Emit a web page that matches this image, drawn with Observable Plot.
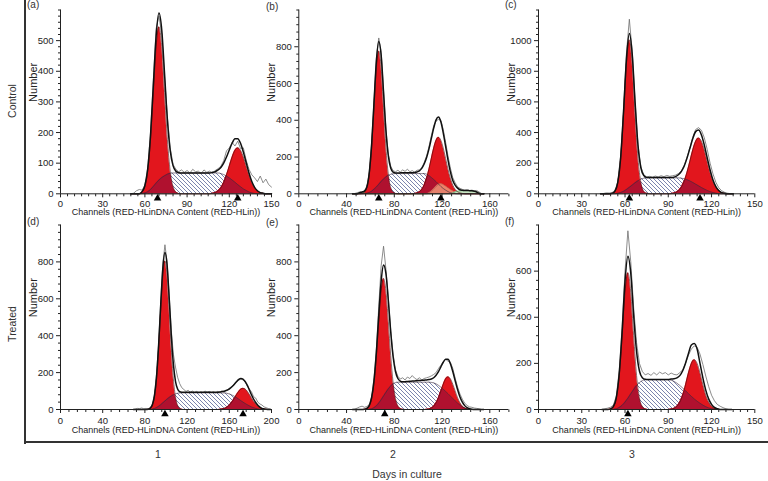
<!DOCTYPE html>
<html>
<head>
<meta charset="utf-8">
<script src="https://cdn.jsdelivr.net/npm/d3@7"></script>
<script src="https://cdn.jsdelivr.net/npm/@observablehq/plot@0.6"></script>
<style>
  html, body { margin: 0; padding: 0; background: #fff; }
  body { font-family: "Liberation Sans", Arial, sans-serif; }
  #wrap { position: relative; width: 768px; height: 481px; overflow: hidden; background: #fff; }
  .panel { position: absolute; }
  .lbl { position: absolute; font-size: 10.5px; color: #333; white-space: nowrap; line-height: 1; }
  .rot { transform: translate(-50%, -50%) rotate(-90deg); }
  .ctr { transform: translate(-50%, -50%); }
  .frameV { position: absolute; left: 24px; top: 0; width: 2px; height: 444px; background: #333; }
  .frameH { position: absolute; left: 24px; top: 441px; width: 744px; height: 2px; background: #333; }
</style>
</head>
<body>
<div id="wrap">
  <svg width="0" height="0" style="position:absolute;left:0;top:0">
    <defs>
      <pattern id="hatch" patternUnits="userSpaceOnUse" width="4" height="4">
        <rect width="4" height="4" fill="#ffffff"></rect>
        <path d="M-1,-1 L5,5 M3,-1 L5,1 M-1,3 L1,5" stroke="#5a6699" stroke-width="0.8"></path>
      </pattern>
    </defs>
  </svg>
  <div class="frameV"></div>
  <div class="frameH"></div>
</div>
<script>
// ---------------- DATA ----------------
const rowLabels = ["Control", "Treated"];
const dayLabels = ["1", "2", "3"];
const panelLetters = ["(a)", "(b)", "(c)", "(d)", "(e)", "(f)"];
const xAxisLabel = "Channels (RED-HLinDNA Content (RED-HLin))";
const yAxisLabel = "Number";
const bottomLabel = "Days in culture";

// Panel (a) Control, day 1
const aCh  = [50,52,54,56,58,60,62,64,66,68,70,72,74,76,78,80,82,84,86,88,90,92,94,96,98,100,102,104,106,108,110,112,114,116,118,120,122,124,126,128,130,132,134,136,138,140,142,144,146,148,150];
const aG1  = [0,0,0,0,6,24,74,177,331,481,545,481,331,177,74,24,6,1,0,0,0,0,0,0,0,0,0,0,0,0,0,0,0,0,0,0,0,0,0,0,0,0,0,0,0,0,0,0,0,0,0];
const aS   = [0,0,0,0,1,3,7,14,24,35,45,53,59,64,67,68,68,68,68,68,68,68,68,68,68,68,68,68,68,68,68,68,66,63,58,52,45,38,30,23,16,11,6,3,1,0,0,0,0,0,0];
const aG2  = [0,0,0,0,0,0,0,0,0,0,0,0,0,0,0,0,0,0,0,0,0,0,0,0,0,0,0,0,0,2,4,10,20,37,62,91,120,142,150,142,120,91,62,37,20,10,4,2,0,0,0];
const aFit = [0,0,0,0,7,27,81,191,355,516,590,534,390,241,141,92,74,69,68,68,68,68,68,68,68,68,68,68,68,70,72,78,86,100,120,143,165,180,180,165,136,102,68,40,21,10,4,2,0,0,0];
const aRaw = [0,2,10,14,12,28,85,200,370,540,580,520,380,250,150,96,80,72,78,70,76,68,80,72,74,66,78,70,74,68,76,82,90,108,140,150,168,156,172,148,150,110,80,62,52,40,58,36,48,30,22];
const aMarks = [69, 126];

// Panel (b) Control, day 2
const bCh  = [45,47,49,51,53,55,57,59,61,63,65,67,69,71,73,75,77,79,81,83,85,87,89,91,93,95,97,99,101,103,105,107,109,111,113,115,117,119,121,123,125,127,129,131,133,135,137,139,141,143,145,147,149,151,153,155];
const bG1  = [0,0,0,0,2,9,34,105,252,471,686,777,686,471,252,105,34,9,2,0,0,0,0,0,0,0,0,0,0,0,0,0,0,0,0,0,0,0,0,0,0,0,0,0,0,0,0,0,0,0,0,0,0,0,0,0];
const bS   = [0,0,0,0,0,1,3,7,14,25,37,52,67,81,92,101,106,109,110,110,110,110,110,110,110,110,110,110,110,110,110,107,99,89,78,66,53,40,29,20,12,6,3,1,0,0,0,0,0,0,0,0,0,0,0,0];
const bG2  = [0,0,0,0,0,0,0,0,0,0,0,0,0,0,0,0,0,0,0,0,0,0,0,0,0,0,2,5,11,24,47,84,134,192,249,291,307,291,249,192,134,84,47,24,11,5,2,0,0,0,0,0,0,0,0,0];
const bAgg = [0,0,0,0,0,0,0,0,0,0,0,0,0,0,0,0,0,0,0,0,0,0,0,0,0,0,0,0,0,0,0,0,5,14,26,40,50,55,50,42,33,24,16,9,4,1,0,0,0,0,0,0,0,0,0,0];
const bDeb = [0,0,0,6,8,5,0,0,0,0,0,0,0,0,0,0,0,0,0,0,0,0,0,0,0,0,0,0,0,0,0,0,0,0,0,0,0,0,0,0,0,0,4,10,14,16,17,18,18,17,16,14,10,3,0,0];
const bFit = [0,0,0,6,10,15,37,112,266,496,723,829,753,552,344,206,140,118,113,113,114,115,115,115,115,115,116,119,125,138,162,196,243,300,357,402,418,392,332,258,183,119,72,47,31,22,19,18,18,17,16,14,10,3,0,0];
const bRaw = [0,2,6,10,8,14,40,118,280,510,740,848,770,560,350,215,150,126,120,128,118,130,122,134,120,126,118,128,130,142,170,205,255,315,370,396,405,400,350,280,205,140,88,60,38,30,24,20,22,18,20,16,18,10,2,0];
const bMarks = [67, 119];

// Panel (c) Control, day 3
const cCh  = [43,45,47,49,51,53,55,57,59,61,63,65,67,69,71,73,75,77,79,81,83,85,87,89,91,93,95,97,99,101,103,105,107,109,111,113,115,117,119,121,123,125,127,129,131,133,135];
const cG1  = [0,0,0,0,3,17,74,231,523,853,1005,853,523,231,74,17,3,0,0,0,0,0,0,0,0,0,0,0,0,0,0,0,0,0,0,0,0,0,0,0,0,0,0,0,0,0,0];
const cS   = [0,0,0,0,0,1,3,8,16,28,42,57,72,85,96,102,104,104,104,104,104,104,104,104,104,104,104,104,102,98,92,84,74,63,52,41,31,22,14,8,4,1,0,0,0,0,0];
const cG2  = [0,0,0,0,0,0,0,0,0,0,0,0,0,0,0,0,0,0,0,0,0,0,0,0,0,3,8,20,43,82,141,213,287,343,364,343,287,213,141,82,43,20,8,3,0,0,0];
const cFit = [0,0,0,0,3,18,77,239,539,881,1047,910,595,316,170,119,107,106,106,106,106,106,106,106,106,107,112,124,145,180,233,297,361,406,416,384,318,235,155,90,47,21,8,3,0,0,0];
const cRaw = [0,2,6,5,8,20,80,250,560,920,1140,930,600,320,175,124,110,114,108,116,110,118,112,120,114,118,122,132,150,185,240,300,370,420,432,415,365,290,200,130,75,40,20,10,4,1,0];
const cMarks = [63, 112];

// Panel (d) Treated, day 1
const dCh  = [69,71,73,75,77,79,81,83,85,87,89,91,93,95,97,99,101,103,105,107,109,111,113,115,117,119,121,123,125,127,129,131,133,135,137,139,141,143,145,147,149,151,153,155,157,159,161,163,165,167,169,171,173,175,177,179,181,183,185,187,189,191,193,195,197,199];
const dG1  = [0,0,0,0,0,0,0,1,6,23,68,166,331,542,729,805,729,542,331,166,68,23,6,1,0,0,0,0,0,0,0,0,0,0,0,0,0,0,0,0,0,0,0,0,0,0,0,0,0,0,0,0,0,0,0,0,0,0,0,0,0,0,0,0,0,0];
const dS   = [0,0,0,0,0,0,0,0,1,2,5,10,17,26,36,46,56,65,73,80,85,88,90,90,90,90,90,90,90,90,90,90,90,90,90,90,90,90,90,90,90,90,90,90,89,86,82,77,71,64,56,48,40,33,26,20,14,10,6,3,1,0,0,0,0,0];
const dG2  = [0,0,0,0,0,0,0,0,0,0,0,0,0,0,0,0,0,0,0,0,0,0,0,0,0,0,0,0,0,0,0,0,0,0,0,0,0,0,0,0,0,1,3,5,10,18,30,45,63,82,99,111,115,111,99,82,63,45,30,18,10,5,3,1,0,0];
const dFit = [0,0,0,0,0,0,0,1,7,25,73,176,348,568,765,851,785,607,404,246,153,111,96,94,94,94,94,94,94,94,94,94,94,94,94,94,94,94,94,94,94,95,97,99,103,108,116,126,138,152,163,168,165,152,132,106,80,57,38,23,13,6,3,1,0,0];
const dRaw = [0,3,6,5,8,4,6,4,10,28,80,190,360,585,790,893,800,620,430,300,230,175,140,118,108,98,104,94,100,92,98,90,96,92,100,94,98,92,96,90,98,94,100,96,104,108,120,126,142,150,158,166,160,150,128,112,96,70,62,40,30,24,14,10,5,2];
const dMarks = [99, 173];

// Panel (e) Treated, day 2
const eCh  = [45,47,49,51,53,55,57,59,61,63,65,67,69,71,73,75,77,79,81,83,85,87,89,91,93,95,97,99,101,103,105,107,109,111,113,115,117,119,121,123,125,127,129,131,133,135,137,139,141,143,145,147,149,151,153,155];
const eG1  = [0,0,0,0,0,1,6,20,60,146,292,479,643,710,643,479,292,146,60,20,6,1,0,0,0,0,0,0,0,0,0,0,0,0,0,0,0,0,0,0,0,0,0,0,0,0,0,0,0,0,0,0,0,0,0,0];
const eS   = [0,0,0,0,0,0,0,1,4,10,20,35,53,73,93,112,128,140,146,148,148,148,148,148,148,148,148,148,148,148,148,148,148,147,144,139,131,121,110,98,86,73,60,47,35,24,15,8,4,1,0,0,0,0,0,0];
const eG2  = [0,0,0,0,0,0,0,0,0,0,0,0,0,0,0,0,0,0,0,0,0,0,0,0,0,0,0,0,0,0,0,1,3,8,18,36,64,100,137,166,177,166,137,100,64,36,18,8,3,1,0,0,0,0,0,0];
const eFit = [0,0,0,0,0,1,6,21,64,156,312,514,696,783,736,591,420,286,206,168,154,150,151,152,153,154,155,156,157,158,159,160,162,165,172,186,205,231,256,272,272,248,206,156,108,68,40,21,10,4,1,0,0,0,0,0];
const eRaw = [0,2,8,14,18,12,16,26,70,170,330,560,780,885,760,600,430,300,215,180,165,172,160,176,168,184,170,162,172,160,168,172,176,182,190,200,222,240,258,272,262,256,222,170,122,84,56,34,22,14,12,8,6,4,0,0];
const eMarks = [72];

// Panel (f) Treated, day 3
const fCh  = [44,46,48,50,52,54,56,58,60,62,64,66,68,70,72,74,76,78,80,82,84,86,88,90,92,94,96,98,100,102,104,106,108,110,112,114,116,118,120,122,124,126,128,130,132,134];
const fG1  = [0,0,0,2,13,50,148,320,508,593,508,320,148,50,13,2,0,0,0,0,0,0,0,0,0,0,0,0,0,0,0,0,0,0,0,0,0,0,0,0,0,0,0,0,0,0];
const fS   = [0,0,0,0,1,3,9,18,32,49,68,87,104,117,125,129,129,129,129,129,129,129,129,129,127,122,114,104,93,81,69,57,46,36,27,19,12,7,3,1,0,0,0,0,0,0];
const fG2  = [0,0,0,0,0,0,0,0,0,0,0,0,0,0,0,0,0,0,0,0,0,0,0,0,2,5,14,32,63,108,159,200,216,200,159,108,63,32,14,5,2,0,0,0,0,0];
const fFit = [0,0,0,3,14,53,157,338,556,664,590,407,252,167,138,131,130,130,130,130,130,130,130,130,132,133,137,147,168,202,243,280,286,262,200,137,84,46,22,9,3,0,0,0,0,0];
const fRaw = [0,3,6,10,20,60,170,360,600,775,640,440,290,200,165,150,156,148,160,150,162,155,160,150,158,152,150,160,172,200,236,262,276,270,240,195,145,100,62,38,22,14,8,3,0,0];
const fMarks = [62];

// Axis ticks
const xTicks150 = [0, 30, 60, 90, 120, 150];
const xTicks160 = [0, 40, 80, 120, 160];
const xTicks200 = [0, 40, 80, 120, 160, 200];
const yTicksA = [0, 100, 200, 300, 400, 500];
const yTicksB = [0, 200, 400, 600, 800];
const yTicksC = [0, 200, 400, 600, 800, 1000];
const yTicksF = [0, 200, 400, 600];

// ---------------- DRAWING ----------------
const RED = "#e2161d";
const CRIMSON = "#b0112f";
const FONT = "'Liberation Sans', Arial, Helvetica, sans-serif";
const TICKFONT = "'Liberation Sans Narrow', 'Liberation Sans', Arial, sans-serif";

const col = [
  {left: 27,  width: 255, ml: 33,   mr: 11},
  {left: 262, width: 258, ml: 36.3, mr: 11.6},
  {left: 503, width: 262, ml: 35,   mr: 10.7}
];
const row = [
  {top: 0,   height: 220, mt: 9.5, mb: 26.7, tp: 2, ldy: 21.5},
  {top: 215, height: 220, mt: 9.5, mb: 26,   tp: 4, ldy: 23.5}
];

const panels = [
  {c: 0, r: 0, ch: aCh, g1: aG1, s: aS, g2: aG2, fit: aFit, raw: aRaw, tri: aMarks, xMax: 150, yMax: 600, xt: xTicks150, xm: 5, yt: yTicksA, ym: 20},
  {c: 1, r: 0, ch: bCh, g1: bG1, s: bS, g2: bG2, fit: bFit, raw: bRaw, agg: bAgg, deb: bDeb, tri: bMarks, xMax: 176, yMax: 1000, xt: xTicks160, xm: 8, yt: yTicksB, ym: 40},
  {c: 2, r: 0, ch: cCh, g1: cG1, s: cS, g2: cG2, fit: cFit, raw: cRaw, tri: cMarks, xMax: 150, yMax: 1200, xt: xTicks150, xm: 5, yt: yTicksC, ym: 40},
  {c: 0, r: 1, ch: dCh, g1: dG1, s: dS, g2: dG2, fit: dFit, raw: dRaw, tri: dMarks, xMax: 200, yMax: 1000, xt: xTicks200, xm: 8, yt: yTicksB, ym: 40},
  {c: 1, r: 1, ch: eCh, g1: eG1, s: eS, g2: eG2, fit: eFit, raw: eRaw, tri: eMarks, xMax: 176, yMax: 1000, xt: xTicks160, xm: 8, yt: yTicksB, ym: 40},
  {c: 2, r: 1, ch: fCh, g1: fG1, s: fS, g2: fG2, fit: fFit, raw: fRaw, tri: fMarks, xMax: 150, yMax: 800, xt: xTicks150, xm: 5, yt: yTicksF, ym: 40}
];

const wrap = document.getElementById("wrap");
const fmt = d3.format("d");

// custom tick glyphs for minor ticks (drawn by Plot.dot through the x/y scales)
const tickDown = {draw(ctx) { ctx.moveTo(0, 0); ctx.lineTo(0, 2.5); }};
const tickLeft = {draw(ctx) { ctx.moveTo(0, 0); ctx.lineTo(-2.5, 0); }};

panels.forEach((p) => {
  const rows = p.ch.map((c, i) => ({
    ch: c, g1: p.g1[i], s: p.s[i], g2: p.g2[i], fit: p.fit[i], raw: p.raw[i],
    o1: Math.min(p.g1[i], p.s[i]), o2: Math.min(p.g2[i], p.s[i]),
    agg: p.agg ? p.agg[i] : 0, deb: p.deb ? p.deb[i] : 0
  }));
  const cv = "monotone-x";
  const xMinor = d3.range(0, p.xMax + 0.01, p.xm).filter(v => !p.xt.includes(v));
  const yMinor = d3.range(0, p.yMax + 0.01, p.ym).filter(v => !p.yt.includes(v));
  const C = col[p.c], R = row[p.r];

  const marks = [
    Plot.areaY(rows, {x: "ch", y: "s", fill: "url(#hatch)", curve: cv}),
    Plot.areaY(rows, {x: "ch", y: "g1", fill: RED, curve: cv}),
    Plot.areaY(rows, {x: "ch", y: "g2", fill: RED, curve: cv}),
    Plot.areaY(rows, {x: "ch", y: "o1", fill: CRIMSON, curve: cv}),
    Plot.areaY(rows, {x: "ch", y: "o2", fill: CRIMSON, curve: cv})
  ];
  if (p.agg) {
    marks.push(Plot.areaY(rows, {x: "ch", y: "agg", fill: "#ef9577", fillOpacity: 0.85, curve: cv}));
    marks.push(Plot.lineY(rows, {x: "ch", y: "agg", stroke: "#a24a3a", strokeWidth: 0.5, curve: cv}));
  }
  if (p.deb) {
    marks.push(Plot.areaY(rows, {x: "ch", y: "deb", fill: "#c9e6c4", curve: cv}));
    marks.push(Plot.lineY(rows, {x: "ch", y: "deb", stroke: "#3f8a45", strokeWidth: 0.6, curve: cv}));
  }
  marks.push(
    Plot.lineY(rows, {x: "ch", y: "s", stroke: "#3a2a3a", strokeWidth: 0.6, curve: cv}),
    Plot.lineY(rows, {x: "ch", y: "g1", stroke: "#4a0a0a", strokeWidth: 0.6, curve: cv}),
    Plot.lineY(rows, {x: "ch", y: "g2", stroke: "#4a0a0a", strokeWidth: 0.6, curve: cv}),
    Plot.lineY(rows, {x: "ch", y: "raw", stroke: "#6e6e6e", strokeWidth: 0.8}),
    Plot.lineY(rows, {x: "ch", y: "fit", stroke: "#111", strokeWidth: 1.5, curve: cv}),
    // axis lines
    Plot.ruleY([0], {x1: 0, x2: p.xMax, stroke: "#222", strokeWidth: 1}),
    Plot.ruleX([0], {y1: 0, y2: p.yMax, stroke: "#222", strokeWidth: 1}),
    Plot.axisX(p.xt, {tickSize: 4, tickPadding: R.tp, fontSize: 9.5, fontFamily: TICKFONT, label: null, stroke: "#222", fill: "#222", tickFormat: fmt}),
    Plot.dot(xMinor, {x: d => d, y: () => 0, symbol: tickDown, stroke: "#222", strokeWidth: 1, fill: "none", r: 1}),
    Plot.axisY(p.yt, {tickSize: 4, tickPadding: 3, fontSize: 9.5, fontFamily: TICKFONT, label: null, stroke: "#222", fill: "#222", tickFormat: fmt}),
    Plot.dot(yMinor, {x: () => 0, y: d => d, symbol: tickLeft, stroke: "#222", strokeWidth: 1, fill: "none", r: 1}),
    Plot.dot(p.tri, {x: d => d, y: () => 0, symbol: "triangle", r: 2.8, fill: "#000", dy: 4.5}),
    Plot.text([yAxisLabel], {text: d => d, frameAnchor: "left", dx: -27, rotate: -90, fontSize: 11, fill: "#222"}),
    Plot.text([xAxisLabel], {text: d => d, frameAnchor: "bottom", dy: R.ldy, fontSize: 9, fill: "#222"})
  );

  const svg = Plot.plot({
    width: C.width, height: R.height,
    marginLeft: C.ml, marginRight: C.mr, marginTop: R.mt, marginBottom: R.mb,
    x: {domain: [0, p.xMax], label: null, axis: null},
    y: {domain: [0, p.yMax], label: null, axis: null},
    style: {background: "transparent", overflow: "visible", fontFamily: FONT, fontSize: "10px", color: "#222"},
    marks
  });
  const div = document.createElement("div");
  div.className = "panel";
  div.style.left = C.left + "px";
  div.style.top = R.top + "px";
  div.appendChild(svg);
  wrap.appendChild(div);
});

// ---------------- outer labels ----------------
function addLabel(text, x, y, cls, size) {
  const d = document.createElement("div");
  d.className = "lbl " + (cls || "");
  d.textContent = text;
  d.style.left = x + "px";
  d.style.top = y + "px";
  if (size) d.style.fontSize = size + "px";
  wrap.appendChild(d);
}
const letterPos = [[27, 0], [266, 2], [505, 0], [27, 217], [266, 218], [505, 217]];
panelLetters.forEach((t, i) => addLabel(t, letterPos[i][0], letterPos[i][1], "", 10));
addLabel(rowLabels[0], 12, 101, "rot", 10.5);
addLabel(rowLabels[1], 12, 324, "rot", 10.5);
const dayX = [158, 393, 632];
dayLabels.forEach((t, i) => addLabel(t, dayX[i], 454, "ctr", 10.5));
addLabel(bottomLabel, 407, 474, "ctr", 10.5);
</script>
</body>
</html>
